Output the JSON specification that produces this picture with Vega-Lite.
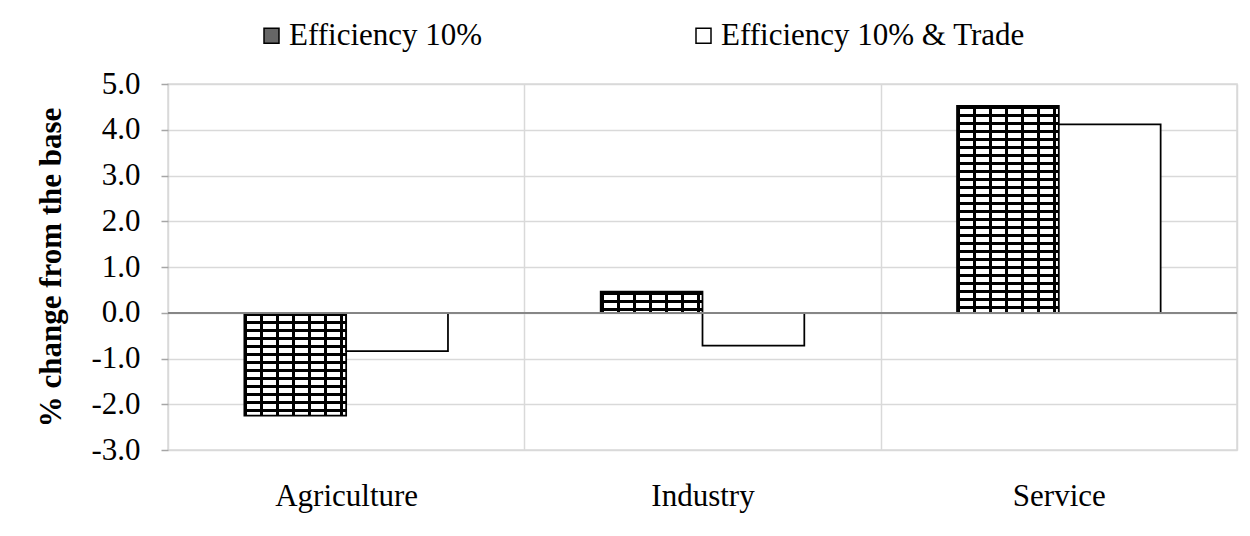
{
  "$schema": "https://vega.github.io/schema/vega-lite/v6.json",
  "width": 1069,
  "height": 366,
  "autosize": {"type": "none"},
  "padding": {"left": 168, "top": 84, "right": 13, "bottom": 86},
  "background": "white",
  "config": {
    "font": "Liberation Serif",
    "view": {"stroke": "#d9d9d9", "strokeWidth": 1.5}
  },
  "data": {
    "values": [
      {"sector": "Agriculture", "scenario": "Efficiency 10%", "value": -2.25},
      {"sector": "Agriculture", "scenario": "Efficiency 10% & Trade", "value": -0.84},
      {"sector": "Industry", "scenario": "Efficiency 10%", "value": 0.46},
      {"sector": "Industry", "scenario": "Efficiency 10% & Trade", "value": -0.72},
      {"sector": "Service", "scenario": "Efficiency 10%", "value": 4.52},
      {"sector": "Service", "scenario": "Efficiency 10% & Trade", "value": 4.12}
    ]
  },
  "layer": [
    {
      "mark": {"type": "bar", "stroke": "black", "strokeWidth": 1.75},
      "encoding": {
        "x": {"field": "sector", "type": "nominal", "sort": null,
          "scale": {"paddingInner": 0, "paddingOuter": 0},
          "axis": {"title": null, "labelAngle": 0, "labelFontSize": 31, "labelColor": "black", "labelPadding": 31, "ticks": false, "domain": false, "grid": true, "gridColor": "#d9d9d9", "gridWidth": 1.5, "tickBand": "extent"}},
        "xOffset": {"field": "scenario", "type": "nominal", "sort": null, "scale": {"paddingInner": 0, "paddingOuter": 0.75}},
        "y": {"field": "value", "type": "quantitative",
          "scale": {"domain": [-3, 5], "nice": false},
          "axis": {"title": "% change from the base", "titleFontSize": 31, "titleFontWeight": "bold", "titleColor": "black", "titlePadding": 23,
            "values": [-3, -2, -1, 0, 1, 2, 3, 4, 5], "format": ".1f", "labelExpr": "replace(datum.label, '\u2212', '-')",
            "labelFontSize": 31, "labelColor": "black", "labelPadding": 21, "tickSize": 7, "tickColor": "#a6a6a6", "tickWidth": 1.5,
            "domain": false, "grid": true, "gridColor": "#d9d9d9", "gridWidth": 1.5}},
        "fill": {
          "condition": [
            {"test": "datum.scenario === 'Efficiency 10%' && datum.sector === 'Agriculture'",
              "value": {"gradient": "linear", "x1": 0, "y1": 0, "x2": 0, "y2": 1, "stops": [
                {"offset": 0, "color": "#000"}, {"offset": 0.0291, "color": "#000"}, {"offset": 0.0291, "color": "#fff"}, {"offset": 0.0777, "color": "#fff"},
                {"offset": 0.0777, "color": "#000"}, {"offset": 0.1068, "color": "#000"}, {"offset": 0.1068, "color": "#fff"}, {"offset": 0.1553, "color": "#fff"},
                {"offset": 0.1553, "color": "#000"}, {"offset": 0.1845, "color": "#000"}, {"offset": 0.1845, "color": "#fff"}, {"offset": 0.2330, "color": "#fff"},
                {"offset": 0.2330, "color": "#000"}, {"offset": 0.2621, "color": "#000"}, {"offset": 0.2621, "color": "#fff"}, {"offset": 0.3107, "color": "#fff"},
                {"offset": 0.3107, "color": "#000"}, {"offset": 0.3398, "color": "#000"}, {"offset": 0.3398, "color": "#fff"}, {"offset": 0.3883, "color": "#fff"},
                {"offset": 0.3883, "color": "#000"}, {"offset": 0.4175, "color": "#000"}, {"offset": 0.4175, "color": "#fff"}, {"offset": 0.4660, "color": "#fff"},
                {"offset": 0.4660, "color": "#000"}, {"offset": 0.4951, "color": "#000"}, {"offset": 0.4951, "color": "#fff"}, {"offset": 0.5437, "color": "#fff"},
                {"offset": 0.5437, "color": "#000"}, {"offset": 0.5728, "color": "#000"}, {"offset": 0.5728, "color": "#fff"}, {"offset": 0.6214, "color": "#fff"},
                {"offset": 0.6214, "color": "#000"}, {"offset": 0.6505, "color": "#000"}, {"offset": 0.6505, "color": "#fff"}, {"offset": 0.6990, "color": "#fff"},
                {"offset": 0.6990, "color": "#000"}, {"offset": 0.7282, "color": "#000"}, {"offset": 0.7282, "color": "#fff"}, {"offset": 0.7767, "color": "#fff"},
                {"offset": 0.7767, "color": "#000"}, {"offset": 0.8058, "color": "#000"}, {"offset": 0.8058, "color": "#fff"}, {"offset": 0.8544, "color": "#fff"},
                {"offset": 0.8544, "color": "#000"}, {"offset": 0.8835, "color": "#000"}, {"offset": 0.8835, "color": "#fff"}, {"offset": 0.9320, "color": "#fff"},
                {"offset": 0.9320, "color": "#000"}, {"offset": 0.9612, "color": "#000"}, {"offset": 0.9612, "color": "#fff"}, {"offset": 1, "color": "#fff"}
              ]}},
            {"test": "datum.scenario === 'Efficiency 10%' && datum.sector === 'Industry'",
              "value": {"gradient": "linear", "x1": 0, "y1": 0, "x2": 0, "y2": 1, "stops": [
                {"offset": 0, "color": "#000"}, {"offset": 0.1429, "color": "#000"}, {"offset": 0.1429, "color": "#fff"}, {"offset": 0.381, "color": "#fff"},
                {"offset": 0.381, "color": "#000"}, {"offset": 0.5238, "color": "#000"}, {"offset": 0.5238, "color": "#fff"}, {"offset": 0.7619, "color": "#fff"},
                {"offset": 0.7619, "color": "#000"}, {"offset": 0.9048, "color": "#000"}, {"offset": 0.9048, "color": "#fff"}, {"offset": 1, "color": "#fff"}
              ]}},
            {"test": "datum.scenario === 'Efficiency 10%' && datum.sector === 'Service'",
              "value": {"gradient": "linear", "x1": 0, "y1": 0, "x2": 0, "y2": 1, "stops": [
                {"offset": 0, "color": "#000"}, {"offset": 0.0145, "color": "#000"}, {"offset": 0.0145, "color": "#fff"}, {"offset": 0.0386, "color": "#fff"},
                {"offset": 0.0386, "color": "#000"}, {"offset": 0.0531, "color": "#000"}, {"offset": 0.0531, "color": "#fff"}, {"offset": 0.0773, "color": "#fff"},
                {"offset": 0.0773, "color": "#000"}, {"offset": 0.0918, "color": "#000"}, {"offset": 0.0918, "color": "#fff"}, {"offset": 0.1159, "color": "#fff"},
                {"offset": 0.1159, "color": "#000"}, {"offset": 0.1304, "color": "#000"}, {"offset": 0.1304, "color": "#fff"}, {"offset": 0.1546, "color": "#fff"},
                {"offset": 0.1546, "color": "#000"}, {"offset": 0.1691, "color": "#000"}, {"offset": 0.1691, "color": "#fff"}, {"offset": 0.1932, "color": "#fff"},
                {"offset": 0.1932, "color": "#000"}, {"offset": 0.2077, "color": "#000"}, {"offset": 0.2077, "color": "#fff"}, {"offset": 0.2319, "color": "#fff"},
                {"offset": 0.2319, "color": "#000"}, {"offset": 0.2464, "color": "#000"}, {"offset": 0.2464, "color": "#fff"}, {"offset": 0.2705, "color": "#fff"},
                {"offset": 0.2705, "color": "#000"}, {"offset": 0.2850, "color": "#000"}, {"offset": 0.2850, "color": "#fff"}, {"offset": 0.3092, "color": "#fff"},
                {"offset": 0.3092, "color": "#000"}, {"offset": 0.3237, "color": "#000"}, {"offset": 0.3237, "color": "#fff"}, {"offset": 0.3478, "color": "#fff"},
                {"offset": 0.3478, "color": "#000"}, {"offset": 0.3623, "color": "#000"}, {"offset": 0.3623, "color": "#fff"}, {"offset": 0.3865, "color": "#fff"},
                {"offset": 0.3865, "color": "#000"}, {"offset": 0.4010, "color": "#000"}, {"offset": 0.4010, "color": "#fff"}, {"offset": 0.4251, "color": "#fff"},
                {"offset": 0.4251, "color": "#000"}, {"offset": 0.4396, "color": "#000"}, {"offset": 0.4396, "color": "#fff"}, {"offset": 0.4638, "color": "#fff"},
                {"offset": 0.4638, "color": "#000"}, {"offset": 0.4783, "color": "#000"}, {"offset": 0.4783, "color": "#fff"}, {"offset": 0.5024, "color": "#fff"},
                {"offset": 0.5024, "color": "#000"}, {"offset": 0.5169, "color": "#000"}, {"offset": 0.5169, "color": "#fff"}, {"offset": 0.5411, "color": "#fff"},
                {"offset": 0.5411, "color": "#000"}, {"offset": 0.5556, "color": "#000"}, {"offset": 0.5556, "color": "#fff"}, {"offset": 0.5797, "color": "#fff"},
                {"offset": 0.5797, "color": "#000"}, {"offset": 0.5942, "color": "#000"}, {"offset": 0.5942, "color": "#fff"}, {"offset": 0.6184, "color": "#fff"},
                {"offset": 0.6184, "color": "#000"}, {"offset": 0.6329, "color": "#000"}, {"offset": 0.6329, "color": "#fff"}, {"offset": 0.6570, "color": "#fff"},
                {"offset": 0.6570, "color": "#000"}, {"offset": 0.6715, "color": "#000"}, {"offset": 0.6715, "color": "#fff"}, {"offset": 0.6957, "color": "#fff"},
                {"offset": 0.6957, "color": "#000"}, {"offset": 0.7101, "color": "#000"}, {"offset": 0.7101, "color": "#fff"}, {"offset": 0.7343, "color": "#fff"},
                {"offset": 0.7343, "color": "#000"}, {"offset": 0.7488, "color": "#000"}, {"offset": 0.7488, "color": "#fff"}, {"offset": 0.7729, "color": "#fff"},
                {"offset": 0.7729, "color": "#000"}, {"offset": 0.7874, "color": "#000"}, {"offset": 0.7874, "color": "#fff"}, {"offset": 0.8116, "color": "#fff"},
                {"offset": 0.8116, "color": "#000"}, {"offset": 0.8261, "color": "#000"}, {"offset": 0.8261, "color": "#fff"}, {"offset": 0.8502, "color": "#fff"},
                {"offset": 0.8502, "color": "#000"}, {"offset": 0.8647, "color": "#000"}, {"offset": 0.8647, "color": "#fff"}, {"offset": 0.8889, "color": "#fff"},
                {"offset": 0.8889, "color": "#000"}, {"offset": 0.9034, "color": "#000"}, {"offset": 0.9034, "color": "#fff"}, {"offset": 0.9275, "color": "#fff"},
                {"offset": 0.9275, "color": "#000"}, {"offset": 0.9420, "color": "#000"}, {"offset": 0.9420, "color": "#fff"}, {"offset": 0.9662, "color": "#fff"},
                {"offset": 0.9662, "color": "#000"}, {"offset": 0.9807, "color": "#000"}, {"offset": 0.9807, "color": "#fff"}, {"offset": 1, "color": "#fff"}
              ]}}
          ],
          "field": "scenario", "type": "nominal", "sort": null,
          "scale": {"domain": ["Efficiency 10%", "Efficiency 10% & Trade"], "range": ["#666666", "white"]},
          "legend": {"title": null, "orient": "none", "legendX": 88, "legendY": -64, "direction": "horizontal", "columns": 2,
            "padding": 0, "columnPadding": 205, "symbolType": "square", "symbolSize": 225, "symbolStrokeColor": "black", "symbolStrokeWidth": 1.5,
            "labelFontSize": 31, "labelColor": "black", "labelOffset": 2, "labelLimit": 600}
        }
      }
    },
    {
      "transform": [{"filter": "datum.scenario === 'Efficiency 10%'"}],
      "mark": {"type": "bar", "strokeWidth": 0,
        "fill": {"gradient": "linear", "x1": 0, "y1": 0, "x2": 1, "y2": 0, "stops": [
          {"offset": 0, "color": "#000"}, {"offset": 0.0294, "color": "#000"}, {"offset": 0.0294, "color": "rgba(0,0,0,0)"}, {"offset": 0.1569, "color": "rgba(0,0,0,0)"},
          {"offset": 0.1569, "color": "#000"}, {"offset": 0.1863, "color": "#000"}, {"offset": 0.1863, "color": "rgba(0,0,0,0)"}, {"offset": 0.3137, "color": "rgba(0,0,0,0)"},
          {"offset": 0.3137, "color": "#000"}, {"offset": 0.3431, "color": "#000"}, {"offset": 0.3431, "color": "rgba(0,0,0,0)"}, {"offset": 0.4706, "color": "rgba(0,0,0,0)"},
          {"offset": 0.4706, "color": "#000"}, {"offset": 0.5, "color": "#000"}, {"offset": 0.5, "color": "rgba(0,0,0,0)"}, {"offset": 0.6275, "color": "rgba(0,0,0,0)"},
          {"offset": 0.6275, "color": "#000"}, {"offset": 0.6569, "color": "#000"}, {"offset": 0.6569, "color": "rgba(0,0,0,0)"}, {"offset": 0.7843, "color": "rgba(0,0,0,0)"},
          {"offset": 0.7843, "color": "#000"}, {"offset": 0.8137, "color": "#000"}, {"offset": 0.8137, "color": "rgba(0,0,0,0)"}, {"offset": 0.9412, "color": "rgba(0,0,0,0)"},
          {"offset": 0.9412, "color": "#000"}, {"offset": 0.9706, "color": "#000"}, {"offset": 0.9706, "color": "rgba(0,0,0,0)"}, {"offset": 1, "color": "rgba(0,0,0,0)"}
        ]}},
      "encoding": {
        "x": {"field": "sector", "type": "nominal", "sort": null},
        "xOffset": {"field": "scenario", "type": "nominal", "sort": null},
        "y": {"field": "value", "type": "quantitative"}
      }
    },
    {
      "mark": {"type": "rule", "color": "#868686", "strokeWidth": 1.5},
      "encoding": {"y": {"datum": 0}}
    }
  ]
}
